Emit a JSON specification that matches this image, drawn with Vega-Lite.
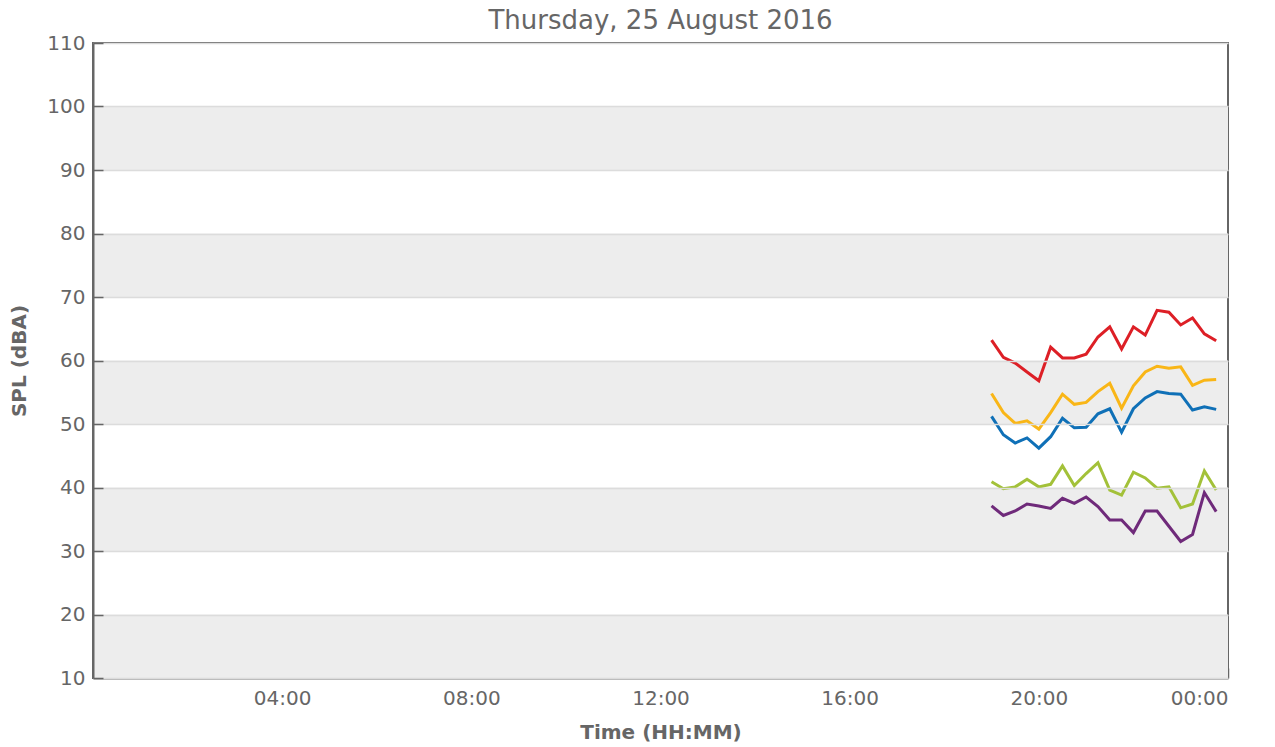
{
  "$schema": "https://vega.github.io/schema/vega-lite/v6.json",
  "autosize": "none",
  "width": 1135,
  "height": 635,
  "padding": {"left": 93, "top": 43, "right": 47, "bottom": 69},
  "background": "white",
  "title": {"text": "Thursday, 25 August 2016", "fontSize": 26, "font": "DejaVu Sans", "fontWeight": "normal", "color": "#666666", "offset": -1},
  "config": {
    "view": {"stroke": "#666666", "strokeWidth": 2},
    "font": "DejaVu Sans"
  },
  "datasets": {
    "bands": [
      {"lo": 10, "hi": 20}, {"lo": 30, "hi": 40}, {"lo": 50, "hi": 60}, {"lo": 70, "hi": 80}, {"lo": 90, "hi": 100}
    ],
    "spl": [
      {"t": "2016-08-25T19:00:00Z", "s": "a", "v": 63.2}, {"t": "2016-08-25T19:15:00Z", "s": "a", "v": 60.5}, {"t": "2016-08-25T19:30:00Z", "s": "a", "v": 59.6}, {"t": "2016-08-25T19:45:00Z", "s": "a", "v": 58.2}, {"t": "2016-08-25T20:00:00Z", "s": "a", "v": 56.8}, {"t": "2016-08-25T20:15:00Z", "s": "a", "v": 62.1}, {"t": "2016-08-25T20:30:00Z", "s": "a", "v": 60.4}, {"t": "2016-08-25T20:45:00Z", "s": "a", "v": 60.4}, {"t": "2016-08-25T21:00:00Z", "s": "a", "v": 61.0}, {"t": "2016-08-25T21:15:00Z", "s": "a", "v": 63.7}, {"t": "2016-08-25T21:30:00Z", "s": "a", "v": 65.3}, {"t": "2016-08-25T21:45:00Z", "s": "a", "v": 61.8}, {"t": "2016-08-25T22:00:00Z", "s": "a", "v": 65.3}, {"t": "2016-08-25T22:15:00Z", "s": "a", "v": 64.0}, {"t": "2016-08-25T22:30:00Z", "s": "a", "v": 67.9}, {"t": "2016-08-25T22:45:00Z", "s": "a", "v": 67.6}, {"t": "2016-08-25T23:00:00Z", "s": "a", "v": 65.6}, {"t": "2016-08-25T23:15:00Z", "s": "a", "v": 66.7}, {"t": "2016-08-25T23:30:00Z", "s": "a", "v": 64.2}, {"t": "2016-08-25T23:45:00Z", "s": "a", "v": 63.1},
      {"t": "2016-08-25T19:00:00Z", "s": "b", "v": 54.8}, {"t": "2016-08-25T19:15:00Z", "s": "b", "v": 51.8}, {"t": "2016-08-25T19:30:00Z", "s": "b", "v": 50.1}, {"t": "2016-08-25T19:45:00Z", "s": "b", "v": 50.5}, {"t": "2016-08-25T20:00:00Z", "s": "b", "v": 49.2}, {"t": "2016-08-25T20:15:00Z", "s": "b", "v": 51.8}, {"t": "2016-08-25T20:30:00Z", "s": "b", "v": 54.7}, {"t": "2016-08-25T20:45:00Z", "s": "b", "v": 53.1}, {"t": "2016-08-25T21:00:00Z", "s": "b", "v": 53.4}, {"t": "2016-08-25T21:15:00Z", "s": "b", "v": 55.1}, {"t": "2016-08-25T21:30:00Z", "s": "b", "v": 56.4}, {"t": "2016-08-25T21:45:00Z", "s": "b", "v": 52.5}, {"t": "2016-08-25T22:00:00Z", "s": "b", "v": 56.0}, {"t": "2016-08-25T22:15:00Z", "s": "b", "v": 58.2}, {"t": "2016-08-25T22:30:00Z", "s": "b", "v": 59.1}, {"t": "2016-08-25T22:45:00Z", "s": "b", "v": 58.8}, {"t": "2016-08-25T23:00:00Z", "s": "b", "v": 59.0}, {"t": "2016-08-25T23:15:00Z", "s": "b", "v": 56.1}, {"t": "2016-08-25T23:30:00Z", "s": "b", "v": 56.9}, {"t": "2016-08-25T23:45:00Z", "s": "b", "v": 57.0},
      {"t": "2016-08-25T19:00:00Z", "s": "c", "v": 51.2}, {"t": "2016-08-25T19:15:00Z", "s": "c", "v": 48.3}, {"t": "2016-08-25T19:30:00Z", "s": "c", "v": 47.0}, {"t": "2016-08-25T19:45:00Z", "s": "c", "v": 47.8}, {"t": "2016-08-25T20:00:00Z", "s": "c", "v": 46.2}, {"t": "2016-08-25T20:15:00Z", "s": "c", "v": 48.0}, {"t": "2016-08-25T20:30:00Z", "s": "c", "v": 50.9}, {"t": "2016-08-25T20:45:00Z", "s": "c", "v": 49.4}, {"t": "2016-08-25T21:00:00Z", "s": "c", "v": 49.5}, {"t": "2016-08-25T21:15:00Z", "s": "c", "v": 51.6}, {"t": "2016-08-25T21:30:00Z", "s": "c", "v": 52.4}, {"t": "2016-08-25T21:45:00Z", "s": "c", "v": 48.7}, {"t": "2016-08-25T22:00:00Z", "s": "c", "v": 52.4}, {"t": "2016-08-25T22:15:00Z", "s": "c", "v": 54.1}, {"t": "2016-08-25T22:30:00Z", "s": "c", "v": 55.1}, {"t": "2016-08-25T22:45:00Z", "s": "c", "v": 54.8}, {"t": "2016-08-25T23:00:00Z", "s": "c", "v": 54.7}, {"t": "2016-08-25T23:15:00Z", "s": "c", "v": 52.2}, {"t": "2016-08-25T23:30:00Z", "s": "c", "v": 52.7}, {"t": "2016-08-25T23:45:00Z", "s": "c", "v": 52.3},
      {"t": "2016-08-25T19:00:00Z", "s": "d", "v": 40.9}, {"t": "2016-08-25T19:15:00Z", "s": "d", "v": 39.8}, {"t": "2016-08-25T19:30:00Z", "s": "d", "v": 40.1}, {"t": "2016-08-25T19:45:00Z", "s": "d", "v": 41.3}, {"t": "2016-08-25T20:00:00Z", "s": "d", "v": 40.1}, {"t": "2016-08-25T20:15:00Z", "s": "d", "v": 40.5}, {"t": "2016-08-25T20:30:00Z", "s": "d", "v": 43.4}, {"t": "2016-08-25T20:45:00Z", "s": "d", "v": 40.3}, {"t": "2016-08-25T21:00:00Z", "s": "d", "v": 42.2}, {"t": "2016-08-25T21:15:00Z", "s": "d", "v": 43.9}, {"t": "2016-08-25T21:30:00Z", "s": "d", "v": 39.6}, {"t": "2016-08-25T21:45:00Z", "s": "d", "v": 38.8}, {"t": "2016-08-25T22:00:00Z", "s": "d", "v": 42.4}, {"t": "2016-08-25T22:15:00Z", "s": "d", "v": 41.5}, {"t": "2016-08-25T22:30:00Z", "s": "d", "v": 39.9}, {"t": "2016-08-25T22:45:00Z", "s": "d", "v": 40.1}, {"t": "2016-08-25T23:00:00Z", "s": "d", "v": 36.8}, {"t": "2016-08-25T23:15:00Z", "s": "d", "v": 37.4}, {"t": "2016-08-25T23:30:00Z", "s": "d", "v": 42.6}, {"t": "2016-08-25T23:45:00Z", "s": "d", "v": 39.6},
      {"t": "2016-08-25T19:00:00Z", "s": "e", "v": 37.1}, {"t": "2016-08-25T19:15:00Z", "s": "e", "v": 35.6}, {"t": "2016-08-25T19:30:00Z", "s": "e", "v": 36.3}, {"t": "2016-08-25T19:45:00Z", "s": "e", "v": 37.4}, {"t": "2016-08-25T20:00:00Z", "s": "e", "v": 37.1}, {"t": "2016-08-25T20:15:00Z", "s": "e", "v": 36.7}, {"t": "2016-08-25T20:30:00Z", "s": "e", "v": 38.3}, {"t": "2016-08-25T20:45:00Z", "s": "e", "v": 37.5}, {"t": "2016-08-25T21:00:00Z", "s": "e", "v": 38.5}, {"t": "2016-08-25T21:15:00Z", "s": "e", "v": 37.0}, {"t": "2016-08-25T21:30:00Z", "s": "e", "v": 34.9}, {"t": "2016-08-25T21:45:00Z", "s": "e", "v": 34.9}, {"t": "2016-08-25T22:00:00Z", "s": "e", "v": 32.9}, {"t": "2016-08-25T22:15:00Z", "s": "e", "v": 36.3}, {"t": "2016-08-25T22:30:00Z", "s": "e", "v": 36.3}, {"t": "2016-08-25T22:45:00Z", "s": "e", "v": 33.9}, {"t": "2016-08-25T23:00:00Z", "s": "e", "v": 31.5}, {"t": "2016-08-25T23:15:00Z", "s": "e", "v": 32.6}, {"t": "2016-08-25T23:30:00Z", "s": "e", "v": 39.2}, {"t": "2016-08-25T23:45:00Z", "s": "e", "v": 36.2}
    ]
  },
  "layer": [
    {
      "data": {"name": "bands"},
      "mark": {"type": "rect", "color": "#ededed"},
      "encoding": {
        "y": {"field": "lo", "type": "quantitative", "scale": {"domain": [10, 110], "nice": false}, "axis": {
          "values": [10, 20, 30, 40, 50, 60, 70, 80, 90, 100, 110],
          "title": "SPL (dBA)", "titleFontSize": 20, "titleFontWeight": "bold", "titleColor": "#666666", "titlePadding": 17,
          "labelFontSize": 20, "labelColor": "#666666", "labelPadding": 18,
          "tickSize": -10, "tickColor": "#666666", "tickWidth": 1.5,
          "domainColor": "#666666", "domainWidth": 2,
          "grid": true, "gridColor": "#dcdcdc", "gridWidth": 1.5, "zindex": 1
        }},
        "y2": {"field": "hi"}
      }
    },
    {
      "data": {"name": "spl"},
      "mark": {"type": "line", "strokeWidth": 3},
      "encoding": {
        "x": {"field": "t", "type": "temporal",
          "scale": {"type": "utc", "domain": [{"year": 2016, "month": 8, "date": 25, "hours": 0, "utc": true}, {"year": 2016, "month": 8, "date": 26, "hours": 0, "utc": true}], "nice": false},
          "axis": {
            "values": [
              {"year": 2016, "month": 8, "date": 25, "hours": 4, "utc": true},
              {"year": 2016, "month": 8, "date": 25, "hours": 8, "utc": true},
              {"year": 2016, "month": 8, "date": 25, "hours": 12, "utc": true},
              {"year": 2016, "month": 8, "date": 25, "hours": 16, "utc": true},
              {"year": 2016, "month": 8, "date": 25, "hours": 20, "utc": true},
              {"year": 2016, "month": 8, "date": 26, "hours": 0, "utc": true}
            ],
            "format": "%H:%M", "title": "Time (HH:MM)", "titleFontSize": 20, "titleFontWeight": "bold", "titleColor": "#666666", "titlePadding": 14,
            "labelFontSize": 20, "labelColor": "#666666", "labelPadding": 20,
            "tickSize": -10, "tickColor": "#666666", "tickWidth": 1.5,
            "domainColor": "#666666", "domainWidth": 2, "grid": false
          }},
        "y": {"field": "v", "type": "quantitative"},
        "color": {"field": "s", "type": "nominal", "legend": null,
          "scale": {"domain": ["a", "b", "c", "d", "e"], "range": ["#dd1f26", "#f9b617", "#0f70b7", "#a3c139", "#6f2a7a"]}}
      }
    }
  ]
}
